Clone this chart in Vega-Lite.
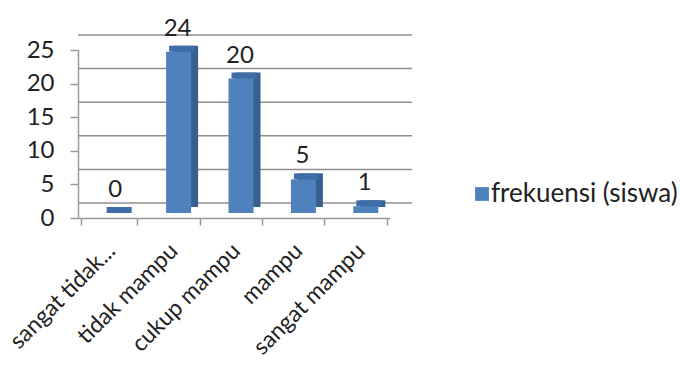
{
  "$schema": "https://vega.github.io/schema/vega-lite/v6.json",
  "autosize": "none",
  "padding": {"left": 78, "top": 50, "right": 290, "bottom": 147},
  "width": 312,
  "height": 168,
  "background": "white",
  "config": {
    "view": {"stroke": null},
    "font": "Lato",
    "axisY": {
      "title": null,
      "grid": false,
      "labelOverlap": false,
      "labelFontSize": 24,
      "labelColor": "#222",
      "labelPadding": 16,
      "domainColor": "#999",
      "domainWidth": 1.5,
      "tickColor": "#999",
      "tickWidth": 1.5,
      "tickSize": 8
    }
  },
  "data": {
    "values": [
      {"kategori": "sangat tidak mampu", "frekuensi": 0, "seri": "frekuensi (siswa)"},
      {"kategori": "tidak mampu", "frekuensi": 24, "seri": "frekuensi (siswa)"},
      {"kategori": "cukup mampu", "frekuensi": 20, "seri": "frekuensi (siswa)"},
      {"kategori": "mampu", "frekuensi": 5, "seri": "frekuensi (siswa)"},
      {"kategori": "sangat mampu", "frekuensi": 1, "seri": "frekuensi (siswa)"}
    ]
  },
  "layer": [
    {
      "data": {"values": [{"frekuensi": 0}, {"frekuensi": 5}, {"frekuensi": 10}, {"frekuensi": 15}, {"frekuensi": 20}, {"frekuensi": 25}]},
      "mark": {"type": "rule", "color": "#8f8f8f", "strokeWidth": 1.5, "xOffset": 22, "yOffset": -15},
      "encoding": {
        "y": {
          "field": "frekuensi",
          "type": "quantitative",
          "scale": {"domain": [0, 25], "nice": false},
          "axis": {"values": [0, 5, 10, 15, 20, 25], "tickCount": 6}
        }
      }
    },
    {
      "mark": {"type": "bar", "color": "#37608F", "width": 25, "xOffset": 14, "yOffset": -11},
      "encoding": {
        "x": {"field": "kategori", "type": "nominal", "sort": null},
        "y": {"field": "frekuensi", "type": "quantitative", "scale": {"domain": [0, 25], "nice": false}, "axis": {"values": [0, 5, 10, 15, 20, 25], "tickCount": 6}}
      }
    },
    {
      "mark": {"type": "tick", "color": "#3F6DA8", "size": 25, "thickness": 6, "xOffset": 10, "yOffset": -8, "opacity": 1},
      "encoding": {
        "x": {"field": "kategori", "type": "nominal", "sort": null},
        "y": {"field": "frekuensi", "type": "quantitative", "scale": {"domain": [0, 25], "nice": false}, "axis": {"values": [0, 5, 10, 15, 20, 25], "tickCount": 6}}
      }
    },
    {
      "mark": {"type": "bar", "width": 25, "xOffset": 7, "yOffset": -5},
      "encoding": {
        "x": {
          "field": "kategori",
          "type": "nominal",
          "sort": null,
          "axis": {
            "title": null,
            "labelAngle": -45,
            "labelAlign": "right",
            "labelBaseline": "middle",
            "labelFontSize": 23,
            "labelColor": "#222",
            "labelPadding": 22,
            "labelOffset": 2,
            "labelExpr": "length(datum.label) > 14 ? slice(datum.label, 0, 12) + '...' : datum.label",
            "domainColor": "#999",
            "domainWidth": 1.5,
            "tickColor": "#999",
            "tickWidth": 1.5,
            "tickSize": 7,
            "tickBand": "extent",
            "grid": false
          }
        },
        "y": {
          "field": "frekuensi",
          "type": "quantitative",
          "scale": {"domain": [0, 25], "nice": false},
          "axis": {"values": [0, 5, 10, 15, 20, 25], "tickCount": 6}
        },
        "color": {
          "field": "seri",
          "type": "nominal",
          "scale": {"range": ["#4F81BD"]},
          "legend": {
            "title": null,
            "orient": "none",
            "legendX": 391,
            "legendY": 131,
            "labelFontSize": 26,
            "labelColor": "#222",
            "labelOffset": -4,
            "labelLimit": 400,
            "symbolType": "square",
            "symbolSize": 190,
            "symbolStrokeWidth": 0
          }
        }
      }
    },
    {
      "mark": {"type": "text", "baseline": "alphabetic", "dx": 6, "dy": -21, "fontSize": 24, "color": "#222"},
      "encoding": {
        "x": {"field": "kategori", "type": "nominal", "sort": null},
        "y": {"field": "frekuensi", "type": "quantitative", "scale": {"domain": [0, 25], "nice": false}, "axis": {"values": [0, 5, 10, 15, 20, 25], "tickCount": 6}},
        "text": {"field": "frekuensi", "type": "quantitative"}
      }
    }
  ]
}
